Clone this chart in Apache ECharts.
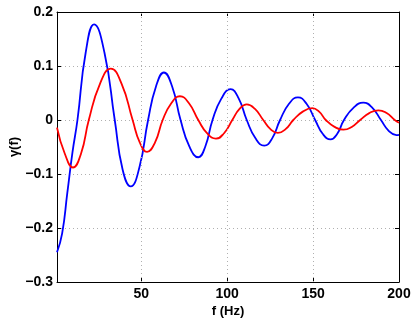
<!DOCTYPE html>
<html><head><meta charset="utf-8">
<script src="https://cdn.jsdelivr.net/npm/echarts@6/dist/echarts.min.js"></script>
<style>html,body{margin:0;padding:0;background:#fff}#c{width:415px;height:319px}</style>
</head><body><div id="c"></div>
<script>
// Blue curve: [f (Hz), gamma]
var blueF = [1,4,7,10,12.9,17.7,22.6,28.6,34.6,39.2,43.9,49,54,58.6,63.2,68,72.9,78,83.2,87.3,91.5,96.7,102,106.7,111.4,116.5,121.6,126.2,130.8,136,141.2,146.2,151.2,155.7,160.2,164,168,173.6,179.2,184.4,189.5,194,198.5,200];
var blueV = [-0.245,-0.21,-0.135,-0.06,0,0.125,0.177,0.125,0,-0.092,-0.123,-0.087,0,0.062,0.088,0.062,0,-0.049,-0.069,-0.049,0,0.04,0.057,0.04,0,-0.034,-0.0475,-0.034,0,0.03,0.042,0.03,0,-0.026,-0.036,-0.026,0,0.023,0.032,0.023,0,-0.02,-0.028,-0.0275];
// Red curve
var redF = [1,5.5,10.3,15,19.5,26,32.3,38.6,45,49.2,53.4,58,62.5,67.5,72.5,77.8,83.2,88.3,93.5,98.2,103,107.2,111.4,116.2,121,125.2,129.5,134,138.5,144,149.5,153.5,157.4,162.5,167.7,172.5,177.4,182.7,188,192.8,197.5,200];
var redV = [-0.014,-0.062,-0.088,-0.062,0,0.067,0.095,0.067,0,-0.042,-0.059,-0.042,0,0.031,0.044,0.031,0,-0.0245,-0.0345,-0.0245,0,0.0205,0.029,0.0205,0,-0.017,-0.024,-0.017,0,0.0155,0.022,0.0155,0,-0.0128,-0.018,-0.0128,0,0.0128,0.018,0.0128,0,-0.005];
var xTicks = [50,100,150,200];

function zip(a,b){return a.map(function(v,i){return [v,b[i]];});}
var chart = echarts.init(document.getElementById('c'), null, {renderer:'canvas'});
var font = 'Liberation Sans, Arial, Helvetica, sans-serif';
var gridLine = {show:true, lineStyle:{color:'#b0b0b0', type:[1,3], width:1}};
chart.setOption({
  animation:false,
  backgroundColor:'#fff',
  grid:{left:57, right:16, top:12, bottom:37, containLabel:false, outerBoundsMode:'none'},
  xAxis:[{
    type:'value', min:1, max:200, position:'bottom',
    name:'f (Hz)', nameLocation:'middle', nameGap:23, nameMoveOverlap:false,
    nameTextStyle:{fontFamily:font, fontWeight:'bold', fontSize:13, color:'#000'},
    axisLine:{show:true, onZero:false, lineStyle:{color:'#000', width:1}},
    axisTick:{show:true, inside:true, length:4, customValues:xTicks, lineStyle:{color:'#000'}},
    axisLabel:{show:true, customValues:xTicks, margin:5, fontFamily:font, fontWeight:'bold', fontSize:14, color:'#000'},
    splitLine:{show:false}
  },{
    type:'value', min:1, max:200, position:'top',
    axisLine:{show:true, onZero:false, lineStyle:{color:'#000', width:1}},
    axisTick:{show:true, inside:true, length:4, customValues:xTicks, lineStyle:{color:'#000'}},
    axisLabel:{show:false}, splitLine:{show:false}
  }],
  yAxis:[{
    type:'value', min:-0.3, max:0.2, interval:0.1, position:'left',
    name:'\u03b3(f)', nameLocation:'middle', nameGap:36, nameRotate:90, nameMoveOverlap:false,
    nameTextStyle:{fontFamily:font, fontWeight:'bold', fontSize:13, color:'#000'},
    axisLine:{show:true, onZero:false, lineStyle:{color:'#000', width:1}},
    axisTick:{show:true, inside:true, length:4, lineStyle:{color:'#000'}},
    axisLabel:{margin:4, fontFamily:font, fontWeight:'bold', fontSize:14, color:'#000',
      formatter:function(v){var s=(Math.round(v*10)/10).toString(); return s.replace('-','\u2212');}},
    splitLine:gridLine
  },{
    type:'value', min:-0.3, max:0.2, interval:0.1, position:'right',
    axisLine:{show:true, onZero:false, lineStyle:{color:'#000', width:1}},
    axisTick:{show:true, inside:true, length:4, lineStyle:{color:'#000'}},
    axisLabel:{show:false}, splitLine:{show:false}
  }],
  series:[
    {type:'line', data:zip(blueF,blueV), smooth:0.5, showSymbol:false, symbol:'none',
     lineStyle:{color:'#0000ff', width:1.8}, z:3,
     markLine:{silent:true, symbol:'none', label:{show:false}, animation:false,
       lineStyle:{color:'#b0b0b0', type:[1,3], width:1},
       data:xTicks.slice(0,3).map(function(t){return {xAxis:t};})}},
    {type:'line', data:zip(redF,redV), smooth:0.5, showSymbol:false, symbol:'none',
     lineStyle:{color:'#ff0000', width:1.8}, z:4}
  ]
});
</script></body></html>
